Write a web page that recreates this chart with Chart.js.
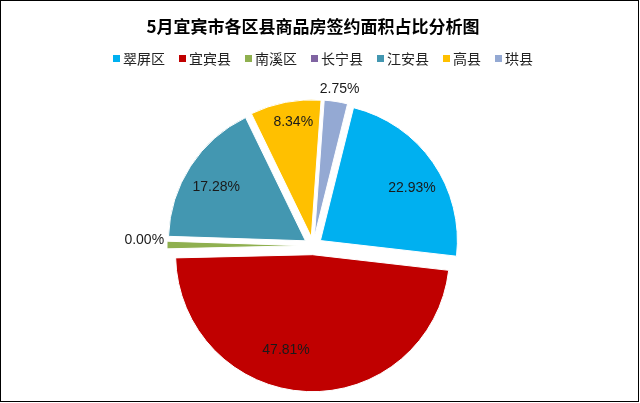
<!DOCTYPE html>
<html lang="zh">
<head>
  <meta charset="UTF-8" />
  <title>5月宜宾市各区县商品房签约面积占比分析图</title>
  <script src="https://cdn.jsdelivr.net/npm/chart.js"></script>
  <style>
    html, body { margin: 0; padding: 0; background: #fff; }
    #wrap { position: relative; width: 640px; height: 403px; overflow: hidden; }
    #wrap canvas { position: absolute; left: 0; top: 0; }
    #frame { position: absolute; left: 0; top: 0; width: 639px; height: 402px; box-sizing: border-box; border: 1px solid #000; pointer-events: none; }
    #legend { position: absolute; left: 113px; top: 49px; display: flex; gap: 14px;
              font: 14px/18px 'Noto Sans CJK SC', sans-serif; color: #222; white-space: nowrap; }
    #legend span.item { display: flex; align-items: center; }
    #legend i { display: inline-block; width: 7px; height: 7px; margin-right: 3px; }
  </style>
</head>
<body>
  <div id="wrap">
    <canvas id="pie" width="640" height="420"></canvas>
    <div id="legend"></div>
    <div id="frame"></div>
  </div>

<script>
  // --- data ---
  const districts = ["翠屏区", "宜宾县", "南溪区", "长宁县", "江安县", "高县", "珙县"];
  const shares = [22.93, 47.81, 0.89, 0.00, 17.28, 8.34, 2.75];
  const shareLabels = ["22.93%", "47.81%", "", "0.00%", "17.28%", "8.34%", "2.75%"];

  // --- style ---
  const colors = ["#00B0F0", "#C00000", "#8FB04F", "#8064A2", "#4397B1", "#FFC000", "#94A9D3"];
  const EXPLODE = 9;
  const labelRadius = [0.77, 0.72, 0, 0, 0.76, 0.85, 0];
  const labelTurn = [5, 13, 0, 0, -2, 2, 0];   // degrees, clockwise
  const labelFont = "14px 'Liberation Sans', Arial, sans-serif";

  // pull every slice out from the centre a little, like the exploded Excel pie
  const explodePlugin = {
    id: "explode",
    afterDatasetUpdate(chart, args) {
      chart.getDatasetMeta(args.index).data.forEach(arc => {
        const mid = (arc.startAngle + arc.endAngle) / 2;
        arc.x += Math.cos(mid) * EXPLODE;
        arc.y += Math.sin(mid) * EXPLODE;
      });
    }
  };

  const labelPlugin = {
    id: "sliceLabels",
    afterDatasetsDraw(chart) {
      const ctx = chart.ctx;
      const meta = chart.getDatasetMeta(0);
      ctx.save();
      ctx.font = labelFont;
      ctx.fillStyle = "#1a1a1a";
      ctx.textAlign = "center";
      ctx.textBaseline = "middle";
      meta.data.forEach((arc, i) => {
        const text = shareLabels[i];
        if (!text) return;
        const R = arc.outerRadius;
        let mid = (arc.startAngle + arc.endAngle) / 2;
        if (shares[i] >= 5) {
          mid += labelTurn[i] * Math.PI / 180;
          const r = R * labelRadius[i];
          ctx.fillText(text, arc.x + Math.cos(mid) * r, arc.y + Math.sin(mid) * r);
        } else {
          const w = ctx.measureText(text).width;
          const h = 20;
          const dx = Math.cos(mid), dy = Math.sin(mid);
          const r = R + 3;
          ctx.fillText(text, arc.x + dx * r + dx * w / 2, arc.y + dy * r + dy * h / 2);
        }
      });
      ctx.restore();
    }
  };

  // legend drawn as html so box/text spacing can follow the original
  const legendEl = document.getElementById("legend");
  districts.forEach((name, i) => {
    const item = document.createElement("span");
    item.className = "item";
    item.innerHTML = `<i style="background:${colors[i]}"></i>${name}`;
    legendEl.appendChild(item);
  });

  new Chart(document.getElementById("pie"), {
    type: "pie",
    data: {
      labels: districts,
      datasets: [{
        data: shares,
        backgroundColor: colors,
        borderColor: "#ffffff",
        borderWidth: 1,
        radius: 137
      }]
    },
    options: {
      responsive: false,
      animation: false,
      rotation: 14,
      layout: { padding: { left: 0, right: 14, top: 0, bottom: 3 } },
      plugins: {
        title: {
          display: true,
          text: "5月宜宾市各区县商品房签约面积占比分析图",
          color: "#000",
          font: { family: "'Noto Sans CJK SC', sans-serif", size: 17, weight: "bold" },
          padding: { top: 16, bottom: 38 }
        },
        legend: { display: false },
        tooltip: { enabled: false }
      }
    },
    plugins: [explodePlugin, labelPlugin]
  });
</script>
</body>
</html>
